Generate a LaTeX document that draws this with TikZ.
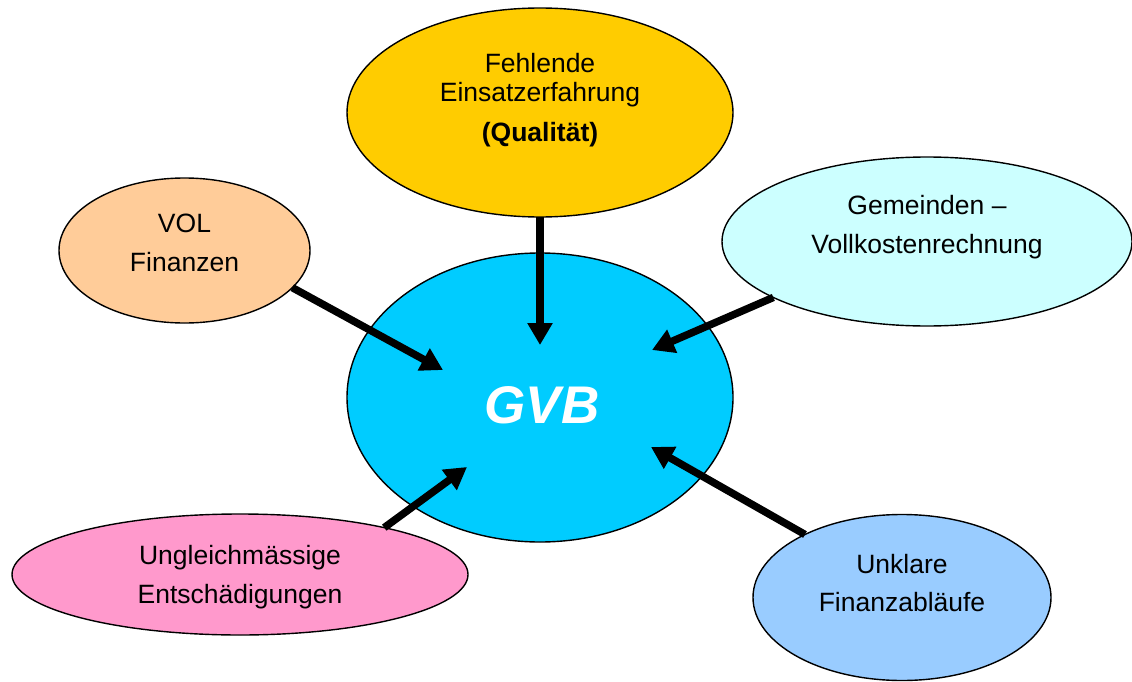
\documentclass[tikz,border=0pt]{standalone}
\usepackage{fontspec}
\setmainfont{Liberation Sans}
\usetikzlibrary{shapes.geometric,arrows.meta}
\definecolor{cgvb}{HTML}{00CCFF}
\definecolor{ctop}{HTML}{FFCC00}
\definecolor{cvol}{HTML}{FFCC99}
\definecolor{cgem}{HTML}{CCFFFF}
\definecolor{cung}{HTML}{FF99CC}
\definecolor{cunk}{HTML}{99CCFF}
\tikzset{
  blob/.style={ellipse, draw=black, line width=1.4pt, inner sep=0pt, outer sep=0pt},
  txt/.style={anchor=base, inner sep=0pt, font=\fontsize{26.5}{30}\selectfont},
  arr/.style={line width=7.5pt, -{Triangle[length=22pt,width=24pt]}}
}
\begin{document}
\begin{tikzpicture}[x=1pt,y=-1pt]
\useasboundingbox (0,0) rectangle (1132,682);
% ellipses
\node[blob, fill=cgvb, minimum width=386pt, minimum height=289pt] (gvb) at (540,397.5) {};
\node[blob, fill=ctop, minimum width=386pt, minimum height=209pt] (top) at (540,112.5) {};
\node[blob, fill=cvol, minimum width=251pt, minimum height=145pt] (vol) at (184.5,250.5) {};
\node[blob, fill=cgem, minimum width=410pt, minimum height=169pt] (gem) at (927,241.5) {};
\node[blob, fill=cung, minimum width=456pt, minimum height=121pt] (ung) at (240,574.5) {};
\node[blob, fill=cunk, minimum width=298pt, minimum height=166pt] (unk) at (902,597.5) {};
% texts
\node[txt] (top1) at (540,73) {Fehlende};
\node[txt] (top2) at (540,102) {Einsatzerfahrung};
\node[txt, font=\fontsize{26.5}{30}\selectfont\bfseries] (top3) at (540,142) {(Qualität)};
\node[txt] (vol1) at (184.5,232) {VOL};
\node[txt] (vol2) at (184.5,271) {Finanzen};
\node[txt] (gem1) at (927,214) {Gemeinden –};
\node[txt] (gem2) at (927,253) {Vollkostenrechnung};
\node[txt] (ung1) at (240,564) {Ungleichmässige};
\node[txt] (ung2) at (240,603) {Entschädigungen};
\node[txt] (unk1) at (902,573) {Unklare};
\node[txt] (unk2) at (902,611) {Finanzabläufe};
\node[anchor=base, inner sep=0pt, text=white, font=\fontsize{53}{60}\selectfont\bfseries\itshape] (gvbt) at (542,423) {GVB};
% arrow tips
\coordinate (ttop) at (540,345);
\coordinate (tvol) at (443,370);
\coordinate (tgem) at (652,350);
\coordinate (tung) at (467,467);
\coordinate (tunk) at (651,447);
% arrows
\draw[arr] (top.south) -- (ttop);
\draw[arr] (vol.-19) -- (tvol);
\draw[arr] (gem.-160.3) -- (tgem);
\draw[arr] (ung.18.4) -- (tung);
\draw[arr] (unk.147.5) -- (tunk);
\end{tikzpicture}
\end{document}
